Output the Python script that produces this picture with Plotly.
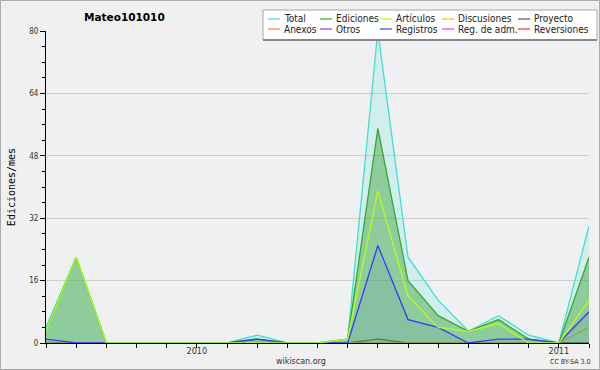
import plotly.graph_objects as go

months = ["2009-08", "2009-09", "2009-10", "2009-11", "2009-12", "2010-01", "2010-02",
          "2010-03", "2010-04", "2010-05", "2010-06", "2010-07", "2010-08", "2010-09",
          "2010-10", "2010-11", "2010-12", "2011-01", "2011-02"]
tick_labels = ["", "", "", "", "", "2010", "", "", "", "", "", "", "", "", "", "", "", "2011", ""]

total =       [4, 22, 0, 0, 0, 0, 0, 2, 0, 0, 1, 80, 22, 11, 3, 7, 2, 0, 30]
ediciones =   [3, 22, 0, 0, 0, 0, 0, 1, 0, 0, 1, 55, 16, 7, 3, 6, 1, 0, 22]
articulos =   [3, 22, 0, 0, 0, 0, 0, 0, 0, 0, 1, 39, 12, 4, 3, 5, 0, 0, 11]
discusiones = [0, 0, 0, 0, 0, 0, 0, 0, 0, 0, 0, 0, 0, 0, 0, 0, 0, 0, 4]
proyecto =    [0, 0, 0, 0, 0, 0, 0, 0, 0, 0, 0, 1, 0, 0, 0, 0, 0, 0, 0]
anexos =      [0] * 19
otros =       [0] * 19
registros =   [1, 0, 0, 0, 0, 0, 0, 1, 0, 0, 0, 25, 6, 4, 0, 1, 1, 0, 8]
reg_adm =     [0] * 19
reversiones = [0] * 19

series = [
    ("Total", total, "#40E0D0", "rgba(64,224,208,0.16)"),
    ("Ediciones", ediciones, "#33AA33", "rgba(60,165,60,0.45)"),
    ("Artículos", articulos, "#B4FF14", None),
    ("Discusiones", discusiones, "#F0C020", None),
    ("Proyecto", proyecto, "#555555", None),
    ("Anexos", anexos, "#FF7F40", None),
    ("Otros", otros, "#8A3CF0", None),
    ("Registros", registros, "#3B3BF5", "rgba(60,60,245,0.07)"),
    ("Reg. de adm.", reg_adm, "#E040F0", None),
    ("Reversiones", reversiones, "#FF3030", None),
]

W, H = 600, 370
L, R, T, B = 46, 11, 31, 27
PW, PH = W - L - R, H - T - B
COND = "DejaVu Sans Condensed, DejaVu Sans"


def px(x):
    return (x - L) / PW


def py(y):
    return (H - B - y) / PH


order = [9, 8, 6, 5, 4, 3, 0, 1, 7, 2]
fig = go.Figure()
for i in order:
    name, vals, color, fill = series[i]
    fig.add_trace(go.Scatter(
        x=months, y=vals, name=name, mode="lines",
        line=dict(color=color, width=1.3),
        fill="tozeroy" if fill else None,
        fillcolor=fill,
        showlegend=False,
        hoverinfo="skip",
    ))

shapes = [
    dict(type="rect", xref="paper", yref="paper", x0=px(263), x1=px(597), y0=py(40), y1=py(10),
         fillcolor="white", line=dict(color="#a8a8a8", width=1), layer="above"),
    dict(type="line", xref="paper", yref="paper", x0=px(263), x1=px(597), y0=py(40), y1=py(40),
         line=dict(color="#888888", width=2), layer="above"),
]
annotations = []
col_x = [268, 320, 380, 442, 518]
row_y = [19, 29]
for i, (name, vals, color, fill) in enumerate(series):
    c, r = i % 5, i // 5
    x0 = col_x[c]
    y0 = row_y[r]
    shapes.append(dict(type="line", xref="paper", yref="paper", x0=px(x0), x1=px(x0 + 12),
                       y0=py(y0), y1=py(y0), line=dict(color=color, width=1.2), layer="above"))
    annotations.append(dict(text=name, xref="paper", yref="paper", x=px(x0 + 14), y=py(y0),
                            xanchor="left", yanchor="middle", showarrow=False,
                            font=dict(size=10, color="#222222", family=COND)))

shapes.append(dict(type="rect", xref="paper", yref="paper", x0=px(0.5), x1=px(599.5),
                   y0=py(369.5), y1=py(0.5), line=dict(color="#aaaaaa", width=1),
                   fillcolor="rgba(0,0,0,0)", layer="below"))

annotations += [
    dict(text="<b>Mateo101010</b>", xref="paper", yref="paper", x=px(82), y=py(17),
         xanchor="left", yanchor="middle", showarrow=False,
         font=dict(size=10.5, color="#000000", family="DejaVu Sans")),
    dict(text="wikiscan.org", xref="paper", yref="paper", x=px(301), y=py(361),
         xanchor="center", yanchor="middle", showarrow=False,
         font=dict(size=8, color="#333333", family="DejaVu Sans")),
    dict(text="CC BY-SA 3.0", xref="paper", yref="paper", x=px(592), y=py(362),
         xanchor="right", yanchor="middle", showarrow=False,
         font=dict(size=7, color="#333333", family=COND)),
]

fig.update_layout(
    width=W, height=H, autosize=False,
    margin=dict(l=L, r=R, t=T, b=B, pad=0, autoexpand=False),
    paper_bgcolor="#f0f0f0",
    plot_bgcolor="#eef0f2",
    showlegend=False,
    shapes=shapes,
    annotations=annotations,
    font=dict(family=COND, size=9, color="#333333"),
    xaxis=dict(
        type="category", range=[0, len(months) - 1], automargin=False,
        tickmode="array", tickvals=months, ticktext=tick_labels,
        ticks="outside", ticklen=4, tickcolor="#000000", tickwidth=1,
        ticklabelstandoff=-5,
        showgrid=False, showline=True, linecolor="#000000", linewidth=1,
        zeroline=False, tickfont=dict(size=9, color="#333333", family=COND),
    ),
    yaxis=dict(
        range=[0, 80], tickvals=[0, 16, 32, 48, 64, 80], automargin=False,
        ticks="outside", ticklen=5, tickcolor="#000000",
        showgrid=True, gridcolor="#cfcfcf", gridwidth=1,
        showline=True, linecolor="#000000", linewidth=1, zeroline=False,
        tickfont=dict(size=8, color="#333333", family=COND),
        minor=dict(dtick=4, ticks="outside", ticklen=3, tickcolor="#000000", showgrid=False),
        title=dict(text="Ediciones/mes", font=dict(size=10, color="#000000", family="DejaVu Sans Mono"),
                   standoff=11),
    ),
)

fig.write_html("out.html", config={"displayModeBar": False, "responsive": False},
               post_script="document.body.style.margin='0';")
